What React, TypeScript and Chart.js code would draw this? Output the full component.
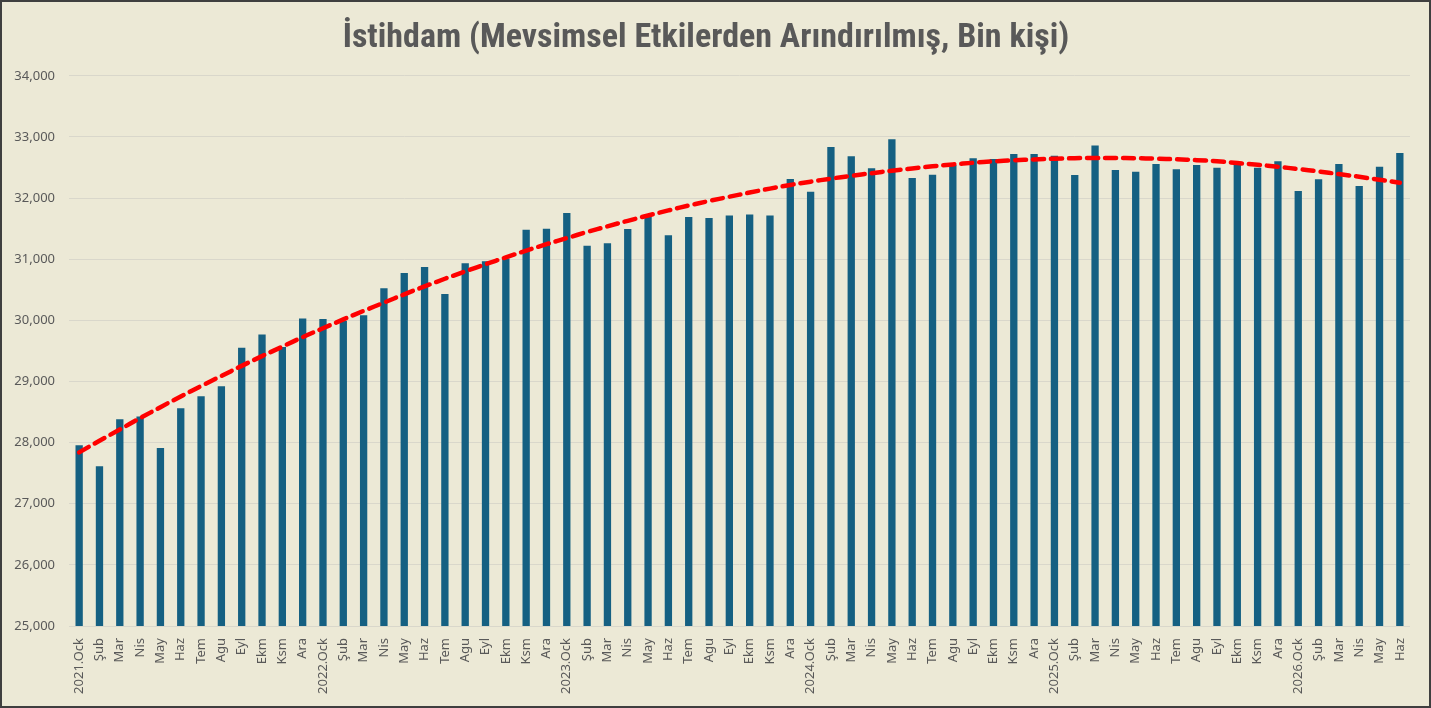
import React, { useEffect, useRef } from "react";
import { Chart, registerables } from "chart.js";

Chart.register(...registerables);

const titleText = "İstihdam (Mevsimsel Etkilerden Arındırılmış, Bin kişi)";

const categories: string[] = [
  "2021.Ock", "Şub", "Mar", "Nis", "May", "Haz", "Tem", "Agu", "Eyl", "Ekm", "Ksm", "Ara",
  "2022.Ock", "Şub", "Mar", "Nis", "May", "Haz", "Tem", "Agu", "Eyl", "Ekm", "Ksm", "Ara",
  "2023.Ock", "Şub", "Mar", "Nis", "May", "Haz", "Tem", "Agu", "Eyl", "Ekm", "Ksm", "Ara",
  "2024.Ock", "Şub", "Mar", "Nis", "May", "Haz", "Tem", "Agu", "Eyl", "Ekm", "Ksm", "Ara",
  "2025.Ock", "Şub", "Mar", "Nis", "May", "Haz", "Tem", "Agu", "Eyl", "Ekm", "Ksm", "Ara",
  "2026.Ock", "Şub", "Mar", "Nis", "May", "Haz",
];

const employment: number[] = [
  27956, 27613, 28381, 28425, 27913, 28560, 28757, 28920, 29552, 29770, 29563, 30030,
  30020, 29990, 30085, 30525, 30776, 30873, 30430, 30935, 30967, 31010, 31481, 31497,
  31754, 31219, 31262, 31492, 31727, 31393, 31689, 31672, 31716, 31732, 31716, 32311,
  32104, 32836, 32683, 32486, 32962, 32328, 32383, 32541, 32650, 32640, 32721, 32721,
  32694, 32377, 32858, 32459, 32432, 32557, 32470, 32541, 32497, 32579, 32497, 32601,
  32115, 32306, 32557, 32197, 32514, 32738,
];

const trend: number[] = [
  27840, 28030, 28215, 28400, 28580, 28755, 28925, 29090, 29255, 29415, 29570, 29725,
  29870, 30015, 30155, 30290, 30425, 30555, 30680, 30800, 30918, 31030, 31140, 31245,
  31345, 31445, 31538, 31628, 31715, 31798, 31878, 31952, 32022, 32090, 32155, 32215,
  32268, 32318, 32364, 32407, 32447, 32485, 32520, 32550, 32577, 32600, 32618, 32632,
  32643, 32652, 32656, 32656, 32652, 32645, 32634, 32620, 32602, 32572, 32545, 32512,
  32475, 32435, 32392, 32348, 32300, 32250,
];

const yMin = 25000;
const yMax = 34000;
const yStep = 1000;

export default function App() {
  const canvasRef = useRef<HTMLCanvasElement | null>(null);

  useEffect(() => {
    document.body.style.margin = "0";
    const canvas = canvasRef.current;
    if (!canvas) return;
    const chart = new Chart(canvas, {
      type: "bar",
      data: {
        labels: categories,
        datasets: [
          {
            type: "line",
            label: "Trend",
            data: trend,
            borderColor: "#FF0000",
            borderWidth: 4.5,
            borderDash: [11, 7],
            borderCapStyle: "round",
            pointRadius: 0,
            fill: false,
            tension: 0.4,
            order: 0,
          } as any,
          {
            type: "bar",
            label: "İstihdam",
            data: employment,
            backgroundColor: "#156082",
            borderColor: "#156082",
            borderWidth: 0,
            barPercentage: 0.36,
            categoryPercentage: 1.0,
            order: 1,
          },
        ],
      },
      options: {
        animation: false,
        responsive: false,
        maintainAspectRatio: false,
        layout: { padding: { top: 0, right: 19, bottom: 0, left: 0 } },
        plugins: {
          legend: { display: false },
          tooltip: { enabled: false },
          title: {
            display: true,
            text: titleText,
            color: "#595959",
            font: { family: "'Liberation Sans Narrow', 'Roboto Condensed', Roboto, sans-serif", size: 34, weight: "bold" },
            padding: { top: 16, bottom: 17 },
          },
        },
        scales: {
          x: {
            grid: { display: false },
            border: { display: false },
            ticks: {
              autoSkip: false,
              maxRotation: 90,
              minRotation: 90,
              color: "#595959",
              font: { family: "'Noto Sans', sans-serif", size: 13 },
              padding: 4,
            },
            afterFit: (scale: any) => {
              scale.height = 80;
            },
          },
          y: {
            min: yMin,
            max: yMax,
            grid: { color: "#D9D7CB", lineWidth: 1, drawTicks: false },
            border: { display: false },
            ticks: {
              stepSize: yStep,
              color: "#595959",
              font: { family: "'Noto Sans', sans-serif", size: 13 },
              padding: 14,
              callback: (v: any) => Number(v).toLocaleString("en-US"),
            },
            afterFit: (scale: any) => {
              scale.width = 67;
            },
          },
        },
      },
    });
    return () => chart.destroy();
  }, []);

  return (
    <div
      style={{
        width: 1431,
        height: 708,
        boxSizing: "border-box",
        border: "2px solid #3F3F3F",
        background: "#ECE9D6",
        overflow: "hidden",
      }}
    >
      <canvas ref={canvasRef} width={1427} height={704} style={{ display: "block" }} />
    </div>
  );
}
